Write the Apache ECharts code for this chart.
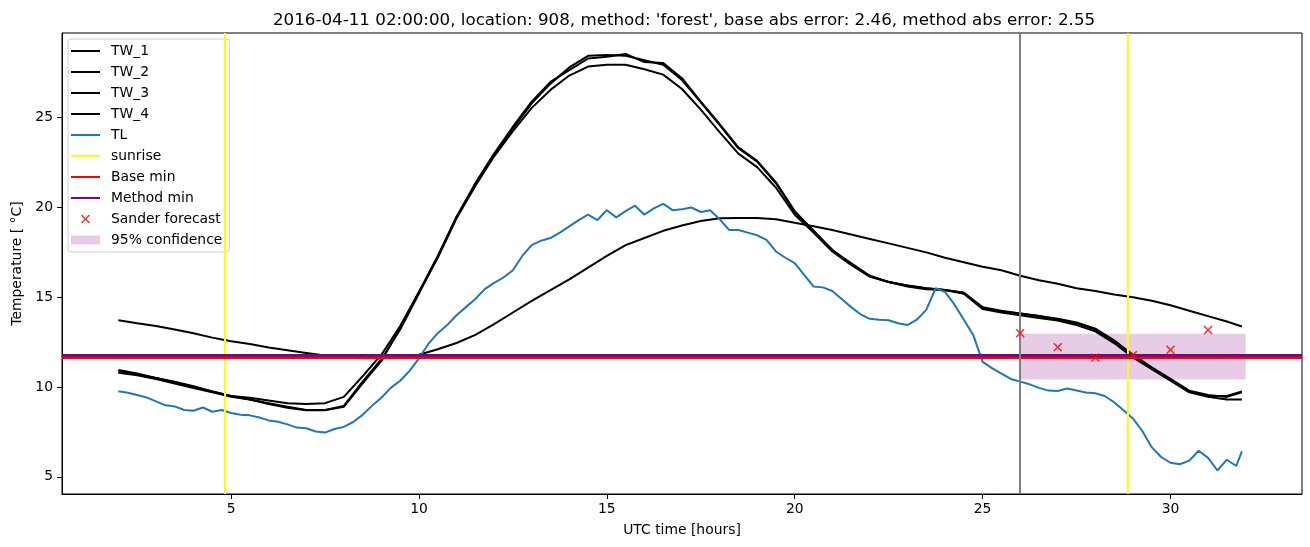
<!DOCTYPE html>
<html>
<head>
<meta charset="utf-8">
<script src="https://cdn.jsdelivr.net/npm/echarts@6/dist/echarts.min.js"></script>
<style>
html,body{margin:0;padding:0;background:#fff;}
#chart{width:1310px;height:547px;}
</style>
</head>
<body>
<div id="chart"></div>
<script>
// ---- data ----
const titleText = "2016-04-11 02:00:00, location: 908, method: 'forest', base abs error: 2.46, method abs error: 2.55";
const xTicks = [5, 10, 15, 20, 25, 30];
const yTicks = [5, 10, 15, 20, 25];

const hours = [2,2.5,3,3.5,4,4.5,5,5.5,6,6.5,7,7.5,8,8.5,9,9.5,10,10.5,11,11.5,12,12.5,13,13.5,14,14.5,15,15.5,16,16.5,17,17.5,18,18.5,19,19.5,20,20.5,21,21.5,22,22.5,23,23.5,24,24.5,25,25.5,26,26.5,27,27.5,28,28.5,29,29.5,30,30.5,31,31.5,31.9];

const TW_1 = [10.9,10.7,10.5,10.25,10.0,9.75,9.5,9.3,9.1,8.9,8.72,8.72,8.95,10.3,11.55,13.2,15.2,17.25,19.5,21.3,22.95,24.4,25.8,26.9,27.8,28.45,28.5,28.45,28.2,27.95,27.1,25.85,24.6,23.3,22.55,21.35,19.75,18.7,17.6,16.9,16.2,15.85,15.65,15.5,15.4,15.25,14.4,14.2,14.1,13.95,13.8,13.6,13.25,12.6,11.8,11.1,10.45,9.8,9.55,9.45,9.7];
const TW_2 = [10.8,10.65,10.45,10.2,9.95,9.7,9.45,9.3,9.05,8.85,8.7,8.7,8.9,10.2,11.45,13.3,15.3,17.3,19.45,21.35,23.0,24.5,25.9,27.0,27.65,28.3,28.4,28.55,28.1,28.05,27.2,25.9,24.65,23.35,22.6,21.4,19.8,18.7,17.65,16.85,16.15,15.85,15.6,15.45,15.4,15.2,14.35,14.15,14.0,13.85,13.7,13.45,13.1,12.45,11.65,11.0,10.35,9.7,9.45,9.3,9.3];
const TW_3 = [10.95,10.75,10.5,10.3,10.05,9.75,9.5,9.4,9.25,9.1,9.05,9.1,9.45,10.6,11.8,13.4,15.3,17.2,19.4,21.2,22.85,24.25,25.55,26.55,27.35,27.85,27.95,27.95,27.7,27.4,26.6,25.45,24.2,23.0,22.25,21.1,19.6,18.6,17.55,16.8,16.15,15.85,15.65,15.5,15.4,15.25,14.45,14.25,14.1,13.95,13.75,13.55,13.2,12.55,11.75,11.05,10.4,9.75,9.5,9.5,9.75];
const TW_4 = [13.72,13.55,13.4,13.2,13.0,12.75,12.55,12.4,12.2,12.05,11.9,11.75,11.65,11.6,11.6,11.62,11.8,12.1,12.45,12.9,13.5,14.15,14.8,15.4,16.0,16.65,17.3,17.9,18.3,18.7,19.0,19.25,19.4,19.42,19.42,19.35,19.15,18.95,18.75,18.5,18.25,18.0,17.75,17.5,17.2,16.95,16.7,16.5,16.2,15.95,15.75,15.5,15.35,15.15,15.0,14.8,14.55,14.25,13.95,13.65,13.37];

const tlHours = [
 2,2.25,2.5,2.75, 3,3.25,3.5,3.75, 4,4.25,4.5,4.75, 5,5.25,5.5,5.75,
 6,6.25,6.5,6.75, 7,7.25,7.5,7.75, 8,8.25,8.5,8.75, 9,9.25,9.5,9.75,
 10,10.25,10.5,10.75, 11,11.25,11.5,11.75, 12,12.25,12.5,12.75, 13,13.25,13.5,13.75,
 14,14.25,14.5,14.75, 15,15.25,15.5,15.75, 16,16.25,16.5,16.75, 17,17.25,17.5,17.75,
 18,18.25,18.5,18.75, 19,19.25,19.5,19.75, 20,20.25,20.5,20.75, 21,21.25,21.5,21.75,
 22,22.25,22.5,22.75, 23,23.25,23.5,23.75, 24,24.25,24.5,24.75, 25,25.25,25.5,25.75,
 26,26.25,26.5,26.75, 27,27.25,27.5,27.75, 28,28.25,28.5,28.75, 29,29.25,29.5,29.75,
 30,30.25,30.5,30.75, 31,31.25,31.5,31.75, 31.9];
const TL = [
 9.76,9.68,9.55,9.42, 9.2,8.98,8.92,8.72, 8.68,8.86,8.62,8.72, 8.55,8.45,8.42,8.3,
 8.14,8.06,7.92,7.74, 7.7,7.52,7.46,7.66, 7.78,8.05,8.45,8.95, 9.4,9.95,10.35,10.9,
 11.6,12.4,13.0,13.45, 14.0,14.45,14.9,15.45, 15.8,16.1,16.5,17.3, 17.9,18.15,18.3,18.6,
 18.95,19.3,19.6,19.3, 19.85,19.45,19.8,20.1, 19.6,19.95,20.2,19.85, 19.9,20.0,19.75,19.85,
 19.35,18.75,18.75,18.6, 18.45,18.2,17.55,17.2, 16.9,16.25,15.6,15.55, 15.35,14.9,14.45,14.05,
 13.8,13.75,13.72,13.55, 13.45,13.75,14.3,15.5, 15.3,14.6,13.75,12.9, 11.4,11.05,10.75,10.45,
 10.3,10.15,9.95,9.8, 9.78,9.92,9.8,9.7, 9.65,9.5,9.15,8.7, 8.25,7.55,6.65,6.1,
 5.78,5.7,5.9,6.45, 6.05,5.35,5.95,5.6, 6.42];

const sunriseHours = [4.84, 28.86];
const nowHour = 26.0;
const baseMin = 11.68;
const methodMin = 11.78;
const forecastHours = [26, 27, 28, 29, 30, 31];
const forecastValues = [13.0, 12.22, 11.64, 11.78, 12.07, 13.17];
const confHours = [26, 32];
const confLower = 10.42;
const confUpper = 12.96;

// ---- chart ----
const FONT = 'DejaVu Sans';
const xMark = 'path://M0,12 L12,0 L50,38 L88,0 L100,12 L62,50 L100,88 L88,100 L50,62 L12,100 L0,88 L38,50 Z';
const lineIcon = 'path://M0,0 L0.01,0 L0,0.01 Z M0,9 L0.01,9 L0,8.99 Z M0,3.6 L29,3.6 L29,5.4 L0,5.4 Z';
const zip = (xs, ys) => xs.map((x, i) => [x, ys[i]]);
const noLabel = {show: false};
function lineSeries(name, xs, ys, color) {
  return {
    name, type: 'line', data: zip(xs, ys), showSymbol: false, symbol: 'none',
    lineStyle: {color, width: 2}, itemStyle: {color}, silent: true, z: 2
  };
}
function vline(name, values, color, width) {
  return {
    name, type: 'line', data: [], symbol: 'none',
    lineStyle: {color, width}, itemStyle: {color},
    markLine: {
      silent: true, symbol: ['none', 'none'], label: noLabel, animation: false,
      lineStyle: {color, width, type: 'solid'},
      emphasis: {disabled: true},
      data: values.map(v => ({xAxis: v}))
    }
  };
}
function hline(name, value, color, width) {
  return {
    name, type: 'line', data: [], symbol: 'none',
    lineStyle: {color, width}, itemStyle: {color},
    markLine: {
      silent: true, symbol: ['none', 'none'], label: noLabel, animation: false,
      lineStyle: {color, width, type: 'solid'},
      emphasis: {disabled: true},
      data: [{yAxis: value}]
    }
  };
}

const chart = echarts.init(document.getElementById('chart'), null, {renderer: 'canvas'});
const bandColor = 'rgba(128,0,128,0.2)';
const lineNames = ['TW_1', 'TW_2', 'TW_3', 'TW_4', 'TL', 'sunrise', 'Base min', 'Method min'];
const option = {
  animation: false,
  backgroundColor: '#fff',
  textStyle: {fontFamily: FONT},
  title: {
    text: titleText, left: 268, top: 7,
    textStyle: {fontFamily: FONT, fontSize: 16.7, fontWeight: 'normal', color: '#000'}
  },
  grid: {left: 62, right: 8, top: 33, bottom: 53, show: true, borderColor: '#000', borderWidth: 1, backgroundColor: 'transparent'},
  xAxis: {
    type: 'value', min: 0.5, max: 33.5,
    name: 'UTC time [hours]', nameLocation: 'middle', nameGap: 29,
    nameTextStyle: {fontFamily: FONT, fontSize: 13.9, color: '#000'},
    axisLine: {show: true, onZero: false, lineStyle: {color: '#000', width: 1}},
    axisTick: {show: true, length: 5, inside: false, customValues: xTicks, lineStyle: {color: '#000'}},
    axisLabel: {show: true, margin: 8, customValues: xTicks, fontFamily: FONT, fontSize: 13.9, color: '#000'},
    splitLine: {show: false}
  },
  yAxis: {
    type: 'value', min: 4.04, max: 29.72,
    name: 'Temperature [ °C]', nameLocation: 'middle', nameGap: 37,
    nameTextStyle: {fontFamily: FONT, fontSize: 13.9, color: '#000'},
    axisLine: {show: true, onZero: false, lineStyle: {color: '#000', width: 1}},
    axisTick: {show: true, length: 5, inside: false, customValues: yTicks, lineStyle: {color: '#000'}},
    axisLabel: {show: true, margin: 9, customValues: yTicks, fontFamily: FONT, fontSize: 13.9, color: '#000'},
    splitLine: {show: false}
  },
  legend: {
    orient: 'vertical', left: 68, top: 39,
    padding: [5, 7, 5, 3],
    itemWidth: 29, itemHeight: 9, itemGap: 7,
    backgroundColor: '#fff', borderColor: '#d0d0d0', borderWidth: 1, borderRadius: 3,
    textStyle: {fontFamily: FONT, fontSize: 13.9, color: '#000', padding: [0, 0, 0, 6]},
    selectedMode: false,
    data: lineNames.map(n => ({name: n, icon: lineIcon})).concat([
      {name: 'Sander forecast', icon: xMark},
      {name: '95% confidence', icon: 'rect', itemStyle: {color: bandColor}}
    ])
  },
  series: [
    lineSeries('TW_1', hours, TW_1, '#000'),
    lineSeries('TW_2', hours, TW_2, '#000'),
    lineSeries('TW_3', hours, TW_3, '#000'),
    lineSeries('TW_4', hours, TW_4, '#000'),
    lineSeries('TL', tlHours, TL, '#1f77b4'),
    vline('sunrise', sunriseHours, '#ffff00', 2),
    hline('Base min', baseMin, '#ff0000', 3),
    hline('Method min', methodMin, '#800080', 3),
    {
      name: 'Sander forecast', type: 'scatter', data: zip(forecastHours, forecastValues),
      symbol: xMark, symbolSize: 9, itemStyle: {color: '#ff0000'}, z: 10, silent: true
    },
    {
      name: '95% confidence', type: 'line', data: [], symbol: 'none',
      itemStyle: {color: bandColor}, lineStyle: {color: bandColor},
      markArea: {
        silent: true, label: noLabel, itemStyle: {color: bandColor},
        data: [[{xAxis: confHours[0], yAxis: confLower}, {xAxis: confHours[1], yAxis: confUpper}]]
      }
    },
    {
      name: 'now', type: 'line', data: [], symbol: 'none',
      markLine: {
        silent: true, symbol: ['none', 'none'], label: noLabel,
        lineStyle: {color: '#808080', width: 2, type: 'solid'},
        data: [{xAxis: nowHour}]
      }
    }
  ]
};
chart.setOption(option);
</script>
</body>
</html>
